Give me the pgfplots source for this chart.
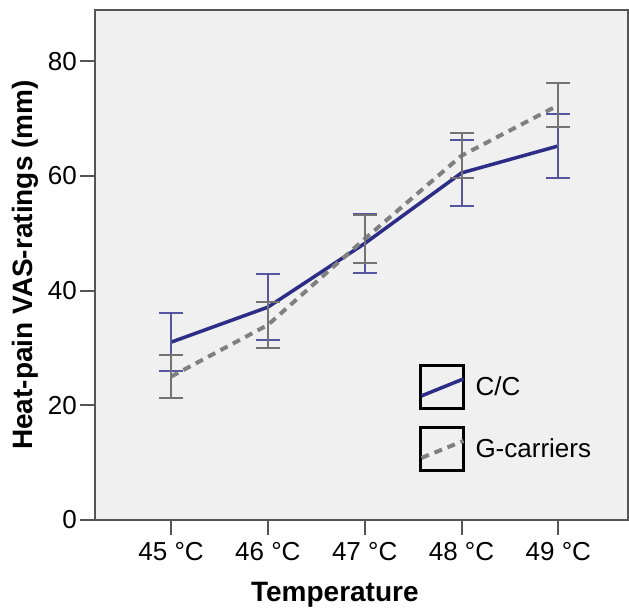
\documentclass[border=0pt]{standalone}
\usepackage{fontspec}
\setmainfont{Liberation Sans}
\usepackage{pgfplots}
\usepackage{pgfplotstable}
\pgfplotsset{compat=1.18}

\definecolor{ccblue}{RGB}{45,45,135}
\definecolor{ccbar}{RGB}{85,85,160}
\definecolor{gdash}{RGB}{128,128,128}
\definecolor{gbar}{RGB}{115,115,115}
\definecolor{panel}{RGB}{240,240,240}
\definecolor{frame}{RGB}{85,85,85}

% mean VAS rating and half length of error bar, per temperature (0 = 45 C)
\pgfplotstableread{
x y e
0 31.0 5.0
1 37.1 5.7
2 48.2 5.1
3 60.5 5.7
4 65.2 5.5
}\cctab
\pgfplotstableread{
x y e
0 25.0 3.7
1 34.0 4.0
2 49.0 4.2
3 63.5 3.9
4 72.3 3.85
}\gctab

\begin{document}
\begin{tikzpicture}
\begin{axis}[
  scale only axis,
  width=533pt, height=510pt,
  xmin=-0.786, xmax=4.72,
  ymin=0, ymax=88.9,
  axis background/.style={fill=panel},
  axis line style={frame, line width=2.5pt},
  xtick={0,1,2,3,4},
  xticklabels={45 °C,46 °C,47 °C,48 °C,49 °C},
  ytick={0,20,40,60,80},
  tick align=outside,
  xtick pos=bottom, ytick pos=left,
  major tick length=15pt,
  tick style={frame, line width=2pt},
  tick label style={font=\fontsize{26}{26}\selectfont, /pgf/number format/assume math mode=true},
  yticklabel style={inner sep=0pt, xshift=-3pt},
  xticklabel style={inner sep=0pt, yshift=-7pt},
  xlabel={Temperature},
  ylabel={Heat-pain VAS-ratings (mm)},
  label style={font=\fontsize{28}{28}\selectfont\bfseries},
  xlabel style={at={(axis description cs:0.45,-0.147)}, anchor=center},
  ylabel style={at={(axis description cs:-0.1313,0.5)}, anchor=center},
  legend style={at={(axis description cs:0.608,0.306)}, anchor=north west,
    draw=none, fill=none, inner sep=0pt, row sep=16.5pt, column sep=10pt,
    font=\fontsize{26}{26}\selectfont, nodes={inner sep=0pt}},
  legend cell align=left,
  legend image code/.code={
    \draw[black, line width=2.5pt, solid] (0pt,-21.5pt) rectangle (43pt,21.5pt);
    \draw (1pt,-9pt) -- (43pt,8pt);
  },
]
\addplot[ccblue, line width=3.5pt,
  error bars/.cd, y dir=both, y explicit,
  error bar style={ccbar, line width=2pt, solid},
  error mark options={rotate=90, ccbar, line width=2pt, mark size=12pt, solid}]
  table[x=x, y=y, y error=e] {\cctab};
\addlegendentry{C/C}
\addplot[gdash, line width=4pt, dash pattern=on 8pt off 6pt,
  error bars/.cd, y dir=both, y explicit,
  error bar style={gbar, line width=2pt, solid},
  error mark options={rotate=90, gbar, line width=2pt, mark size=12pt, solid}]
  table[x=x, y=y, y error=e] {\gctab};
\addlegendentry{G-carriers}
\end{axis}
\pgfresetboundingbox
\path[use as bounding box] ([xshift=-95pt,yshift=-91pt]current axis.south west) rectangle ([xshift=1pt,yshift=10pt]current axis.north east);
\end{tikzpicture}
\end{document}
